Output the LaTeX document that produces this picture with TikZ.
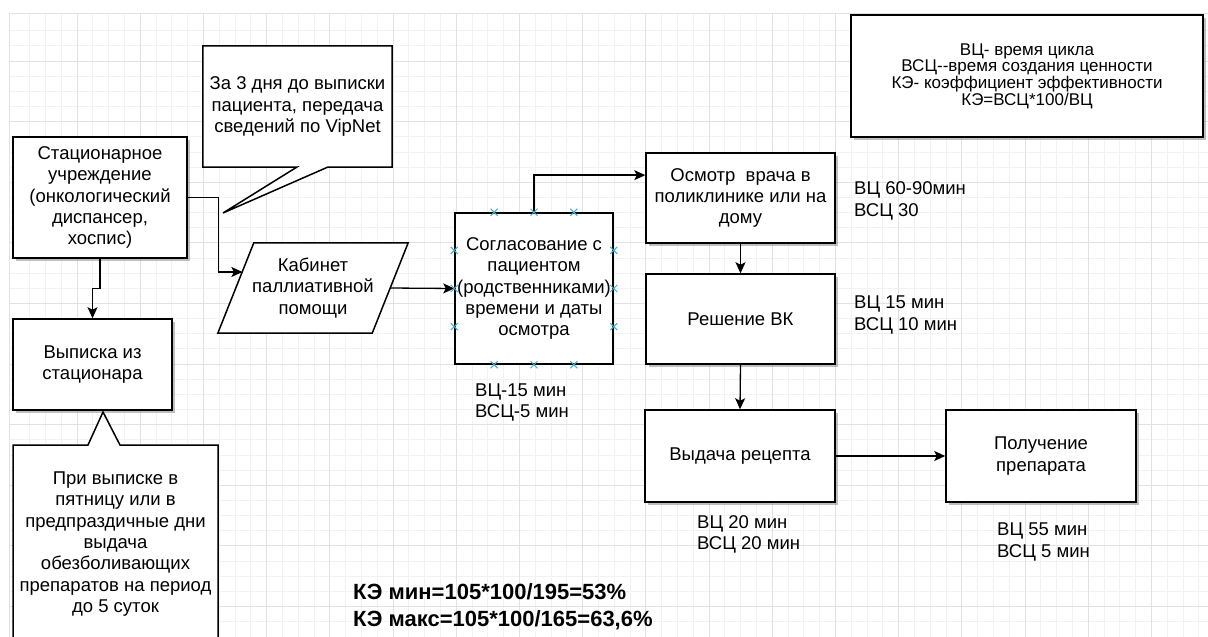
\documentclass[tikz,border=0pt]{standalone}
\usepackage{fontspec}
\setmainfont{Liberation Sans}
\usetikzlibrary{arrows.meta,shapes.geometric,calc,shadows}
\newcommand{\fsmain}{\fontsize{18.5}{21.3}\selectfont}
\newcommand{\fslegend}{\fontsize{17}{16.7}\selectfont}
\newcommand{\fske}{\fontsize{22}{27}\selectfont\bfseries}
\definecolor{gridmin}{HTML}{F2F2F2}
\definecolor{gridmaj}{HTML}{E2E2E2}
\definecolor{mkc}{HTML}{3AAFD0}
\begin{document}
\begin{tikzpicture}[x=1pt,y=-1pt,
  gridminor/.style={draw=gridmin,line width=0.8pt},
  gridmajor/.style={draw=gridmaj,line width=1pt},
  box/.style={draw=black,line width=1.5pt,fill=white,inner sep=0pt,align=center,font=\fsmain},
  shad/.style={drop shadow={shadow xshift=2.5pt,shadow yshift=-2.5pt,fill=black!50,opacity=0.5}},
  txt/.style={inner sep=0pt,align=center,font=\fsmain},
  lbl/.style={inner sep=0pt,align=left,font=\fsmain,anchor=west},
  callout/.style={draw=black,line width=1.5pt,fill=white,line join=miter},
  arr/.style={line width=1.3pt,-{Stealth[length=11pt,width=10pt,inset=2.5pt]}},
  mk/.style={draw=mkc,line width=1pt}]
\useasboundingbox (0,0) rectangle (1208,637);
\fill[white] (0,0) rectangle (1208,637);
% grid
\foreach \i in {1,...,75} \draw[gridminor] ({13.8+15.8*\i},13) -- ({13.8+15.8*\i},637);
\foreach \j in {2,...,41} \draw[gridminor] (9,{0.4+15.15*\j}) -- (1208,{0.4+15.15*\j});
\foreach \i in {1,...,18} \draw[gridmajor] ({13.8+63.2*\i},13) -- ({13.8+63.2*\i},637);
\foreach \j in {1,...,10} \draw[gridmajor] (9,{0.4+60.6*\j}) -- (1208,{0.4+60.6*\j});
\draw[gridmajor] (9,637) -- (9,13) -- (1208,13);

% legend
\node[box,shad,font=\fslegend,minimum width=352,minimum height=122] (leg) at (1027,76)
  {ВЦ- время цикла\\ВСЦ-{}-время создания ценности\\КЭ- коэффициент эффективности\\КЭ=ВСЦ*100/ВЦ};

% callout 1
\node[txt,minimum width=189,minimum height=121] (c1) at (297.5,106.5) {};
\coordinate (c1a) at (297,167);
\coordinate (c1b) at (328,167);
\coordinate (c1tip) at (223,213);
\draw[callout] (c1.north west) -- (c1.north east) -- (c1.south east) -- (c1b) -- (c1tip) -- (c1a) -- (c1.south west) -- cycle;
\node[txt] at (c1) {За 3 дня до выписки\\пациента, передача\\сведений по VipNet};

% main boxes
\node[box,shad,minimum width=174,minimum height=121] (stat) at (100,197.5)
  {Стационарное\\учреждение\\(онкологический\\диспансер,\\хоспис)};
\node[box,shad,minimum width=159,minimum height=91] (vyp) at (92.5,364.5)
  {Выписка из\\стационара};
% parallelogram
\node[txt,minimum width=190,minimum height=90] (kab) at (313,288) {};
\draw[callout] (kab.south west) -- ($(kab.north west)+(36,0)$) -- (kab.north east)
  -- ($(kab.south east)+(-36,0)$) -- cycle;
\node[txt] at (kab) {Кабинет\\паллиативной\\помощи};
\coordinate (kabin) at (242.4,272);
\coordinate (kabout) at (390,288);

\node[box,minimum width=158,minimum height=151] (sog) at (534,288.5)
  {Согласование с\\пациентом\\(родственниками)\\времени и даты\\осмотра};
\node[box,shad,minimum width=189,minimum height=90] (osm) at (740.5,198)
  {Осмотр\ \ врача в\\поликлинике или на\\дому};
\node[box,shad,minimum width=189,minimum height=90] (resh) at (740.5,319)
  {Решение ВК};
\node[box,shad,minimum width=190,minimum height=92] (vyd) at (740,456)
  {Выдача рецепта};
\node[box,shad,minimum width=190,minimum height=92] (pol) at (1041,456)
  {Получение\\препарата};

% callout 2
\coordinate (c2bl) at (13,660);
\coordinate (c2tl) at (13,445);
\coordinate (c2a) at (88,445);
\coordinate (c2tip) at (103,412);
\coordinate (c2b) at (120,445);
\coordinate (c2tr) at (218,445);
\coordinate (c2br) at (218,660);
\draw[callout] (c2bl) -- (c2tl) -- (c2a) -- (c2tip) -- (c2b) -- (c2tr) -- (c2br);
\node[txt] (c2) at (115.5,544)
  {При выписке в\\пятницу или в\\предпраздичные дни\\выдача\\обезболивающих\\препаратов на период\\до 5 суток};

% labels
\node[lbl] (lsog) at (475,402.5) {ВЦ-15 мин\\ВСЦ-5 мин};
\node[lbl] (losm) at (854,201) {ВЦ 60-90мин\\ВСЦ 30};
\node[lbl] (lresh) at (854,315) {ВЦ 15 мин\\ВСЦ 10 мин};
\node[lbl] (lvyd) at (697,534.5) {ВЦ 20 мин\\ВСЦ 20 мин};
\node[lbl] (lpol) at (997,542) {ВЦ 55 мин\\ВСЦ 5 мин};
\node[lbl,font=\fske] (ke) at (353,606.5) {КЭ мин=105*100/195=53\%\\КЭ макс=105*100/165=63,6\%};

% connectors
\draw[arr] (stat.east) -- ++(31,0) |- (kabin);
\draw[arr] (stat.south) -- ++(0,30) -| (vyp.north);
\draw[arr] (kabout) -- (sog.west);
\coordinate (osmin) at ($(osm.north west)!0.25!(osm.south west)$);
\draw[arr] (sog.north) |- (osmin);
\draw[arr] (osm.south) -- (resh.north);
\draw[arr] (resh.south) -- (vyd.north);
\draw[arr] (vyd.east) -- (pol.west);

% connection markers
\foreach \f in {0.25,0.5,0.75}{
  \draw[mk] ($(sog.north west)!\f!(sog.north east)$) +(-3.5,-3.5) -- +(3.5,3.5) +(-3.5,3.5) -- +(3.5,-3.5);
  \draw[mk] ($(sog.south west)!\f!(sog.south east)$) +(-3.5,-3.5) -- +(3.5,3.5) +(-3.5,3.5) -- +(3.5,-3.5);
  \draw[mk] ($(sog.north west)!\f!(sog.south west)$) +(-3.5,-3.5) -- +(3.5,3.5) +(-3.5,3.5) -- +(3.5,-3.5);
  \draw[mk] ($(sog.north east)!\f!(sog.south east)$) +(-3.5,-3.5) -- +(3.5,3.5) +(-3.5,3.5) -- +(3.5,-3.5);
}
\end{tikzpicture}
\end{document}
